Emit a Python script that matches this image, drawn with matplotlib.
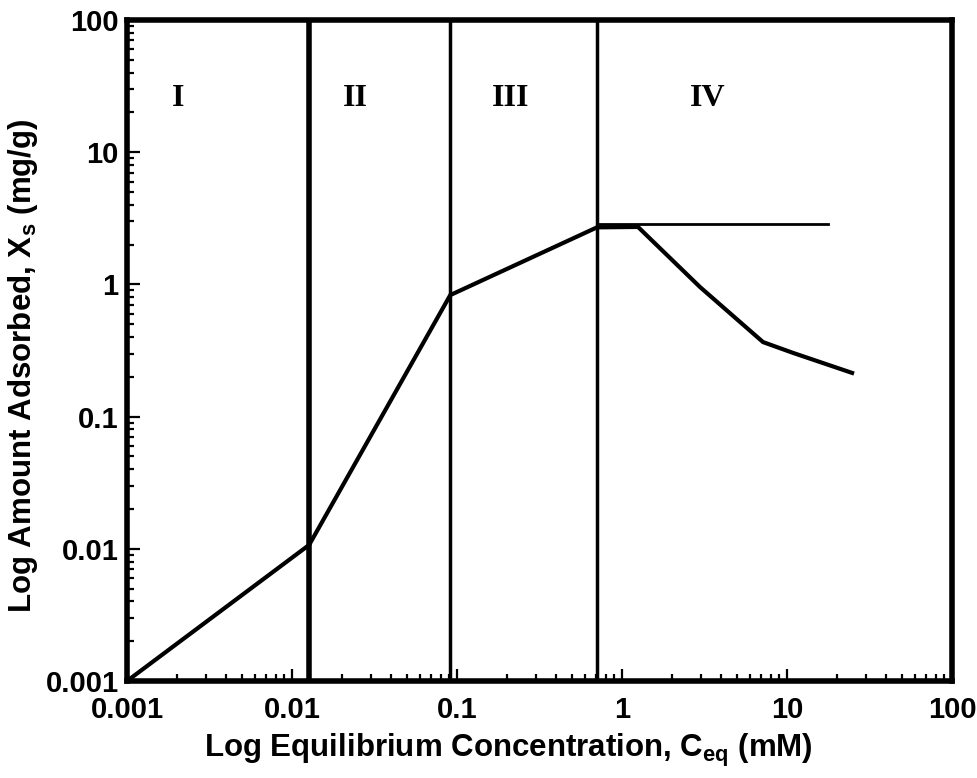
"""
Adsorption isotherm sketch: four regions (I-IV) on log-log axes.
"""

import matplotlib
matplotlib.use('Agg')
import matplotlib.pyplot as plt
from matplotlib.ticker import LogLocator, FuncFormatter, NullFormatter

plt.rcParams.update({
    'font.family': 'Liberation Sans',
    'font.weight': 'bold',
    'mathtext.fontset': 'custom',
    'mathtext.rm': 'Liberation Sans:bold',
    'mathtext.it': 'Liberation Sans:bold',
    'mathtext.bf': 'Liberation Sans:bold',
    'mathtext.default': 'rm',
})

# isotherm curve (equilibrium conc. in mM, amount adsorbed in mg/g)
conc = [0.001, 0.0127, 0.091, 0.705, 1.25, 2.97, 7.16, 10.9, 24.8]
amount = [0.001, 0.0107, 0.83, 2.7, 2.72, 0.955, 0.366, 0.303, 0.214]

# region boundaries and plateau (monolayer) level
boundaries = [0.0127, 0.091, 0.705]
boundary_widths = [4, 2.5, 2.5]
plateau_level = 2.85
plateau_span = [0.705, 17.7]

# region labels
region_names = ['I', 'II', 'III', 'IV']
region_x = [0.00204, 0.0241, 0.212, 3.32]
region_y = 25.7

fig = plt.figure(figsize=(9.78, 7.78), dpi=100)
ax = fig.add_axes([0.1299, 0.1247, 0.8435, 0.8496])

ax.set_xscale('log')
ax.set_yscale('log')
ax.set_xlim(0.001, 100)
ax.set_ylim(0.001, 100)

ax.plot(conc, amount, color='black', linewidth=3, solid_joinstyle='miter',
        solid_capstyle='projecting')

for xb, lw in zip(boundaries, boundary_widths):
    ax.axvline(xb, color='black', linewidth=lw)

ax.plot(plateau_span, [plateau_level, plateau_level], color='black', linewidth=2)

for name, xr in zip(region_names, region_x):
    ax.text(xr, region_y, name, fontsize=23, family='Liberation Serif',
            fontweight='bold', ha='center', va='center')

# axes styling
for side in ['top', 'right', 'bottom', 'left']:
    ax.spines[side].set_linewidth(4)

fmt = FuncFormatter(lambda v, _: f'{v:g}')
for axis in (ax.xaxis, ax.yaxis):
    axis.set_major_locator(LogLocator(base=10, numticks=10))
    axis.set_minor_locator(LogLocator(base=10, subs=range(2, 10), numticks=10))
    axis.set_major_formatter(fmt)
    axis.set_minor_formatter(NullFormatter())

ax.tick_params(which='both', direction='in', top=False, right=False, width=1.6)
ax.tick_params(which='major', length=9, labelsize=21)
ax.tick_params(which='minor', length=5)
ax.tick_params(axis='x', which='major', pad=11)
ax.tick_params(axis='y', which='major', pad=6)

ax.set_xlabel(r'Log Equilibrium Concentration, $C_{eq}$ (mM)', fontsize=22.5,
              fontweight='bold')
ax.set_ylabel(r'Log Amount Adsorbed, $X_s$ (mg/g)', fontsize=22.5,
              fontweight='bold')
ax.xaxis.set_label_coords(0.462, -0.077)
ax.yaxis.set_label_coords(-0.106, 0.477)

fig.savefig('out.png', dpi=100)
